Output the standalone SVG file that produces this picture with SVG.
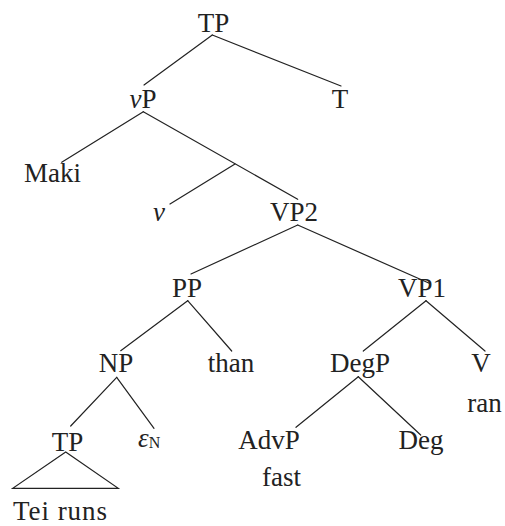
<svg xmlns="http://www.w3.org/2000/svg" width="505" height="526" viewBox="0 0 505 526">
  <style>
    .lbl { font-family: 'Liberation Serif', 'Times New Roman', serif; font-size: 27px; fill: #222; text-anchor: middle; }
    .it { font-style: italic; }
    .edges line, .edges polygon { stroke: #222; stroke-width: 1.2; fill: none; stroke-linecap: round; }
  </style>
  <rect width="505" height="526" fill="#fff"/>

  <!-- branches of the tree -->
  <g class="edges" id="connectors">
    <line x1="212.3" y1="35" x2="144" y2="85"/>
    <line x1="212.3" y1="35" x2="341" y2="86"/>
    <line x1="143.3" y1="111.7" x2="61.7" y2="162.3"/>
    <line x1="143.3" y1="111.7" x2="297.7" y2="199.3"/>
    <line x1="235" y1="164" x2="170" y2="204"/>
    <line x1="297.7" y1="225" x2="191" y2="274"/>
    <line x1="297.7" y1="225" x2="429.3" y2="283.3"/>
    <line x1="187.7" y1="300.7" x2="120.7" y2="350.7"/>
    <line x1="187.7" y1="300.7" x2="231.7" y2="351"/>
    <line x1="426" y1="300.7" x2="363.3" y2="351"/>
    <line x1="426" y1="300.7" x2="485" y2="351"/>
    <line x1="116.7" y1="377.3" x2="70.7" y2="426"/>
    <line x1="116.7" y1="377.3" x2="154" y2="428.3"/>
    <line x1="358.3" y1="376.7" x2="296" y2="427.3"/>
    <line x1="358.3" y1="376.7" x2="420.7" y2="435"/>
    <!-- roof over the unanalysed TP -->
    <polygon points="65.7,452 12.7,488.3 118.3,488.3"/>
  </g>

  <g id="tp-root"><text class="lbl" x="213.5" y="32">TP</text></g>
  <g id="vp"><text class="lbl" x="143" y="108"><tspan class="it">ν</tspan>P</text></g>
  <g id="t"><text class="lbl" x="340" y="107.5">T</text></g>
  <g id="maki"><text class="lbl" x="52.5" y="182">Maki</text></g>
  <g id="v-head"><text class="lbl it" x="159" y="221">ν</text></g>
  <g id="vp2"><text class="lbl" x="294" y="221">VP2</text></g>
  <g id="pp"><text class="lbl" x="187" y="297">PP</text></g>
  <g id="vp1"><text class="lbl" x="422" y="297">VP1</text></g>
  <g id="np"><text class="lbl" x="116" y="372">NP</text></g>
  <g id="than"><text class="lbl" x="231" y="372">than</text></g>
  <g id="degp"><text class="lbl" x="360" y="372">DegP</text></g>
  <g id="v"><text class="lbl" x="481" y="372">V</text></g>
  <g id="ran"><text class="lbl" x="484.5" y="411.5">ran</text></g>
  <g id="tp-embedded"><text class="lbl" x="67.5" y="451">TP</text></g>
  <g id="epsilon-n"><text class="lbl" x="138" y="447" style="text-anchor:start"><tspan class="it">ε</tspan><tspan font-size="16" dy="1">N</tspan></text></g>
  <g id="advp"><text class="lbl" x="269" y="448.5">AdvP</text></g>
  <g id="deg"><text class="lbl" x="421" y="448.5">Deg</text></g>
  <g id="fast"><text class="lbl" x="281.5" y="486">fast</text></g>
  <g id="tei-runs"><text class="lbl" x="13" y="520" style="text-anchor:start" textLength="94" lengthAdjust="spacing">Tei runs</text></g>
</svg>
